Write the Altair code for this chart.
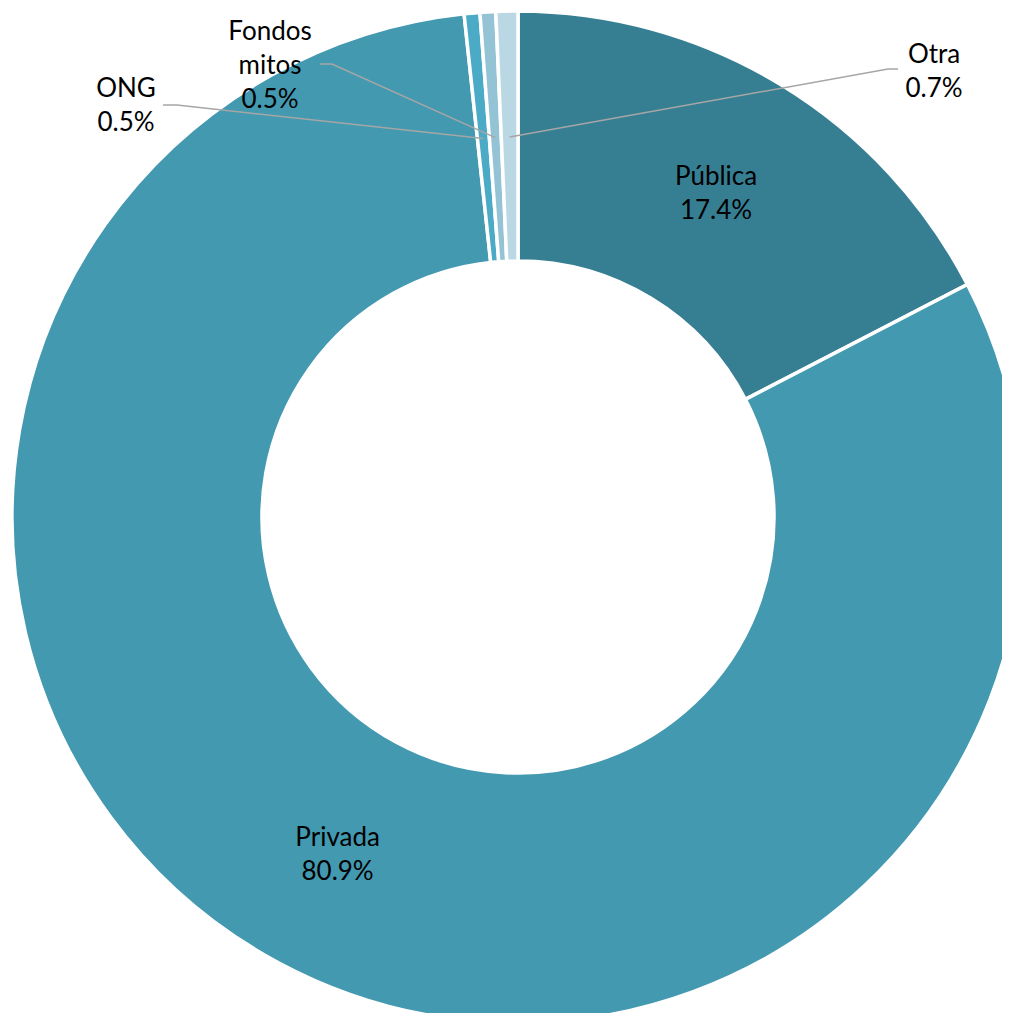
import math
import altair as alt
import pandas as pd

# ---- data ----
categories = ["Pública", "Privada", "ONG", "Fondos mitos", "Otra"]
shares = [17.4, 80.9, 0.5, 0.5, 0.7]
inside_labels = ["Pública\n17.4%", "Privada\n80.9%", "", "", ""]
outside_labels = ["", "", "ONG\n0.5%", "Fondos\nmitos\n0.5%", "Otra\n0.7%"]

# ---- styles / layout ----
colors = ["#367F93", "#4399B0", "#4BABC6", "#93C3D5", "#BAD8E4"]
W, H = 994, 1005
CX, CY = 510, 509
R_OUT, R_IN = 506, 256
R_LABEL = 381
R_LEADER = 380
FONT = "Lato"
FS = 26
LH = 34

# first-line centre of each outside label (plot coords)
out_anchor = {
    "ONG": (118, 81),
    "Fondos mitos": (262, 24),
    "Otra": (926, 47),
}
leader_pts = {
    "ONG": [(169, 97), (155, 97)],
    "Fondos mitos": [(324, 56), (312, 56)],
    "Otra": [(880, 61), (890, 61)],
}

df = pd.DataFrame({
    "cat": categories,
    "share": shares,
    "ord": list(range(len(categories))),
    "inner": inside_labels,
})

total = sum(shares)
cum = 0.0
out_rows, line_rows = [], []
for c, s, lab in zip(categories, shares, outside_labels):
    mid = 2 * math.pi * (cum + s / 2) / total
    cum += s
    if not lab:
        continue
    ax, ay = out_anchor[c]
    out_rows.append({"cat": c, "x": ax, "y": ay, "t": lab})
    sx = CX + R_LEADER * math.sin(mid)
    sy = CY - R_LEADER * math.cos(mid)
    pts = [(sx, sy)] + leader_pts[c]
    for i, (px, py) in enumerate(pts):
        line_rows.append({"cat": c, "seq": i, "x": px, "y": py})

df_out = pd.DataFrame(out_rows)
df_lines = pd.DataFrame(line_rows)

base = alt.Chart(df).encode(
    theta=alt.Theta("share:Q", stack=True),
    order=alt.Order("ord:Q"),
    x=alt.value(CX),
    y=alt.value(CY),
)

arc = base.mark_arc(radius=R_OUT, radius2=R_IN, stroke="white", strokeWidth=3.5).encode(
    color=alt.Color("cat:N", scale=alt.Scale(domain=categories, range=colors), legend=None)
)

inner_text = base.mark_text(
    radius=R_LABEL, font=FONT, fontSize=FS, lineBreak="\n", lineHeight=LH,
    align="center", baseline="middle", dy=-15, color="#000000"
).encode(text="inner:N")

leaders = alt.Chart(df_lines).mark_line(color="#A6A6A6", strokeWidth=1.5).encode(
    x=alt.X("x:Q", scale=None, axis=None),
    y=alt.Y("y:Q", scale=None, axis=None),
    detail="cat:N",
    order="seq:Q",
)

outer_text = alt.Chart(df_out).mark_text(
    font=FONT, fontSize=FS, lineBreak="\n", lineHeight=LH,
    align="center", baseline="middle", color="#000000"
).encode(
    x=alt.X("x:Q", scale=None, axis=None),
    y=alt.Y("y:Q", scale=None, axis=None),
    text="t:N",
)

chart = alt.layer(arc, leaders, inner_text, outer_text).properties(
    width=W, height=H, autosize=alt.AutoSizeParams(type="none"), padding=0
).configure_view(stroke=None)

chart.save("out.html", embed_options={"renderer": "svg", "actions": False})
